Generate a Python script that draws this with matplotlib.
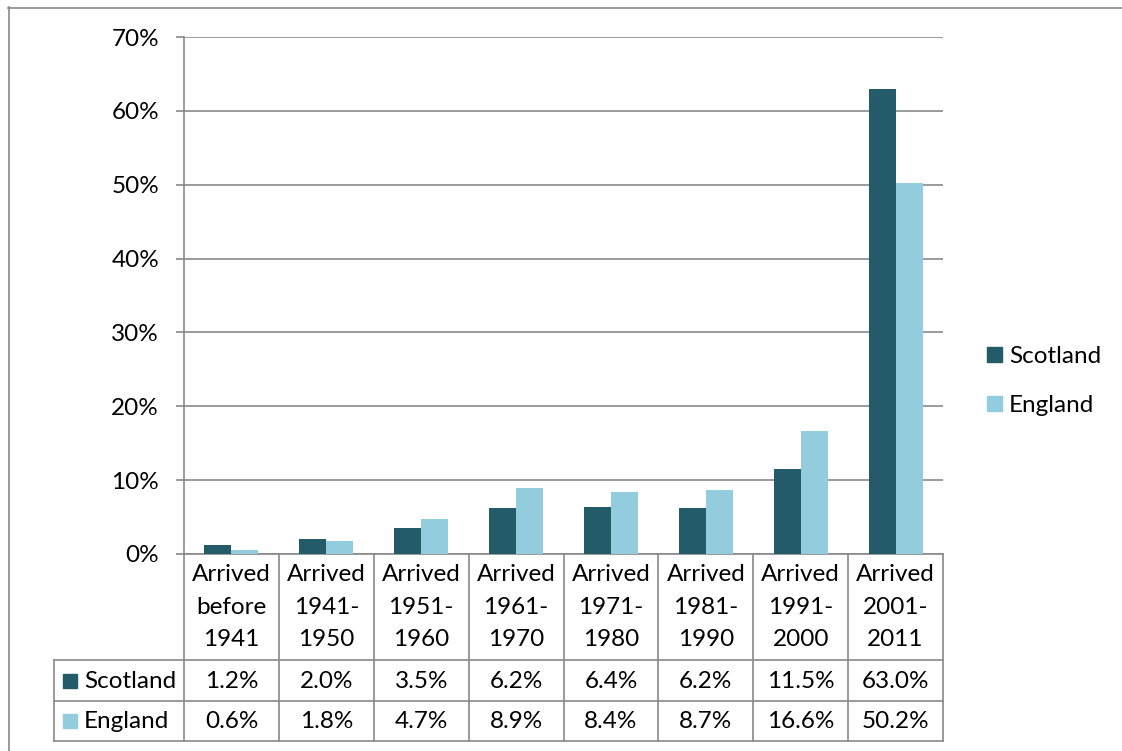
import matplotlib
matplotlib.use("Agg")
import matplotlib.pyplot as plt
from matplotlib.lines import Line2D
from matplotlib.patches import Patch, Rectangle
from matplotlib.transforms import blended_transform_factory

# ---- data ----
categories = ["Arrived\nbefore\n1941", "Arrived\n1941-\n1950", "Arrived\n1951-\n1960",
              "Arrived\n1961-\n1970", "Arrived\n1971-\n1980", "Arrived\n1981-\n1990",
              "Arrived\n1991-\n2000", "Arrived\n2001-\n2011"]
series_names = ["Scotland", "England"]
scotland = [1.2, 2.0, 3.5, 6.2, 6.4, 6.2, 11.5, 63.0]
england = [0.6, 1.8, 4.7, 8.9, 8.4, 8.7, 16.6, 50.2]
y_ticks = [0, 10, 20, 30, 40, 50, 60, 70]

colors = ["#245B69", "#93CDDD"]
grid_c = "#898989"
FS = 17.5

plt.rcParams['font.family'] = ['Lato', 'DejaVu Sans']

W, H = 1122, 751
fig = plt.figure(figsize=(W / 100, H / 100), dpi=100)
fx = lambda px: px / W
fy = lambda py: 1 - py / H

ax = fig.add_axes([fx(184), fy(554), fx(943) - fx(184), fy(37) - fy(554)])
n = len(categories)
bw = 0.285
xs = list(range(n))
ax.bar([x - bw / 2 for x in xs], scotland, width=bw, color=colors[0], zorder=3)
ax.bar([x + bw / 2 for x in xs], england, width=bw, color=colors[1], zorder=3)
ax.set_xlim(-0.5, n - 0.5)
ax.set_ylim(0, 70)
ax.set_yticks(y_ticks)
ax.set_yticklabels([f"{t}%" for t in y_ticks], fontsize=FS)
ax.set_xticks([])
ax.yaxis.grid(True, color=grid_c, lw=1.2, zorder=0)
ax.set_axisbelow(True)
for s in ["top", "right"]:
    ax.spines[s].set_visible(False)
for s in ["left", "bottom"]:
    ax.spines[s].set_color(grid_c)
    ax.spines[s].set_linewidth(1.2)
ax.tick_params(axis='y', length=6, width=1.2, color=grid_c, pad=12)

# ---- data table ----
tr = blended_transform_factory(ax.transData, fig.transFigure)
lkw = dict(color=grid_c, lw=1.2, clip_on=False)
y_hdr_bot, y_s_bot, y_e_bot = 660, 701, 741
x_left = (54 - 184) / ((943 - 184) / n) - 0.5
for b in [i - 0.5 for i in range(n + 1)]:
    fig.add_artist(Line2D([b, b], [fy(554), fy(y_e_bot)], transform=tr, **lkw))
fig.add_artist(Line2D([x_left, x_left], [fy(y_hdr_bot), fy(y_e_bot)], transform=tr, **lkw))
for yy in [y_hdr_bot, y_s_bot, y_e_bot]:
    fig.add_artist(Line2D([x_left, n - 0.5], [fy(yy), fy(yy)], transform=tr, **lkw))

for i, c in enumerate(categories):
    fig.text(i, fy(607), c, transform=tr, ha='center', va='center', fontsize=FS,
             linespacing=1.66)
    fig.text(i, fy(681), f"{scotland[i]:.1f}%", transform=tr, ha='center', va='center', fontsize=FS)
    fig.text(i, fy(721), f"{england[i]:.1f}%", transform=tr, ha='center', va='center', fontsize=FS)

for name, col, yc in zip(series_names, colors, [681, 721]):
    fig.add_artist(Rectangle((fx(63), fy(yc + 7)), fx(14), fy(yc - 7) - fy(yc + 7),
                             transform=fig.transFigure, color=col))
    fig.text(fx(84), fy(yc), name, ha='left', va='center', fontsize=FS)

# ---- legend ----
handles = [Patch(color=c, label=n_) for c, n_ in zip(colors, series_names)]
fig.legend(handles=handles, loc='center left', bbox_to_anchor=(fx(987), fy(381)),
           frameon=False, fontsize=FS, handlelength=0.6, handleheight=0.6,
           handletextpad=0.3, labelspacing=1.15, borderpad=0, borderaxespad=0)

# ---- outer border ----
fig.add_artist(Line2D([fx(8.5), fx(8.5)], [fy(7), 0], color=grid_c, lw=1.2, transform=fig.transFigure))
fig.add_artist(Line2D([fx(8), 1], [fy(7.5), fy(7.5)], color=grid_c, lw=1.2, transform=fig.transFigure))

fig.savefig("out.png", dpi=100)
